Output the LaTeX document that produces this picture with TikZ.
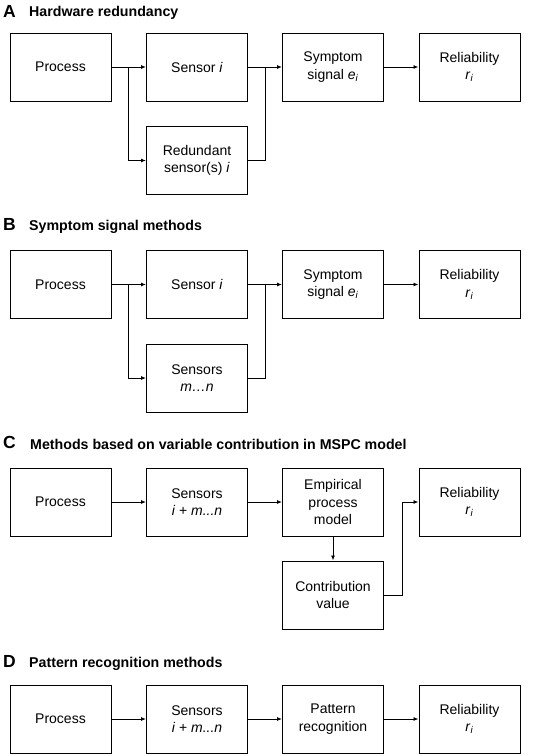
\documentclass[tikz,border=0pt]{standalone}
\usepackage{fontspec}
\setmainfont{Liberation Sans}
\usetikzlibrary{arrows.meta}
\begin{document}
\begin{tikzpicture}[x=1pt,y=-1pt,
  box/.style={draw, line width=1pt, minimum width=101pt, minimum height=68pt,
    inner sep=0pt, align=center, font=\fontsize{14}{17.5}\selectfont},
  arr/.style={line width=0.9pt, -{Latex[length=5pt,width=4pt]}},
  conn/.style={line width=0.9pt},
  letter/.style={anchor=base west, inner sep=0pt, font=\fontsize{17.5}{20}\selectfont\bfseries},
  subtitle/.style={anchor=base west, inner sep=0pt, font=\fontsize{14.2}{17}\selectfont\bfseries}]
\useasboundingbox (0,0) rectangle (533,756);

% ---------- A ----------
\node[letter] (la) at (3,17) {A};
\node[subtitle] (ta) at (29,16) {Hardware redundancy};
\node[box] (pA) at (60.5,67) {Process};
\node[box] (sA) at (197,67) {Sensor \textit{i}};
\node[box] (rA) at (197,160.5) {Redundant\\sensor(s) \textit{i}};
\node[box] (yA) at (333,67) {Symptom\\signal \textit{e}\textsubscript{\textit{i}}};
\node[box] (lA) at (469.5,67) {Reliability\\\textit{r}\textsubscript{\textit{i}}};
\coordinate (bA) at (128,67);
\coordinate (mA) at (265,67);
\draw[arr] (pA.east) -- (sA.west);
\draw[arr] (bA) |- (rA.west);
\draw[arr] (sA.east) -- (yA.west);
\draw[conn] (rA.east) -| (mA);
\draw[arr] (yA.east) -- (lA.west);

% ---------- B ----------
\node[letter] (lb) at (3,230) {B};
\node[subtitle] (tb) at (29,230) {Symptom signal methods};
\node[box] (pB) at (60.5,284.5) {Process};
\node[box] (sB) at (197,284.5) {Sensor \textit{i}};
\node[box] (rB) at (197,378) {Sensors\\\textit{m…n}};
\node[box] (yB) at (333,284.5) {Symptom\\signal \textit{e}\textsubscript{\textit{i}}};
\node[box] (lB) at (469.5,284.5) {Reliability\\\textit{r}\textsubscript{\textit{i}}};
\coordinate (bB) at (128,284.5);
\coordinate (mB) at (265,284.5);
\draw[arr] (pB.east) -- (sB.west);
\draw[arr] (bB) |- (rB.west);
\draw[arr] (sB.east) -- (yB.west);
\draw[conn] (rB.east) -| (mB);
\draw[arr] (yB.east) -- (lB.west);

% ---------- C ----------
\node[letter] (lc) at (3,448) {C};
\node[subtitle] (tc) at (30,449) {Methods based on variable contribution in MSPC model};
\node[box] (pC) at (60.5,502) {Process};
\node[box] (sC) at (197,502) {Sensors\\\textit{i} + \textit{m...n}};
\node[box] (eC) at (333,502) {Empirical\\process\\model};
\node[box] (cC) at (333,595) {Contribution\\value};
\node[box] (lC) at (469.5,502) {Reliability\\\textit{r}\textsubscript{\textit{i}}};
\coordinate (kC) at (402,502);
\draw[arr] (pC.east) -- (sC.west);
\draw[arr] (sC.east) -- (eC.west);
\draw[arr] (eC.south) -- (cC.north);
\draw[arr] (cC.east) -| (kC) -- (lC.west);

% ---------- D ----------
\node[letter] (ld) at (3,667) {D};
\node[subtitle] (td) at (29,667) {Pattern recognition methods};
\node[box] (pD) at (60.5,719) {Process};
\node[box] (sD) at (197,719) {Sensors\\\textit{i} + \textit{m...n}};
\node[box] (rD) at (333,719) {Pattern\\recognition};
\node[box] (lD) at (469.5,719) {Reliability\\\textit{r}\textsubscript{\textit{i}}};
\draw[arr] (pD.east) -- (sD.west);
\draw[arr] (sD.east) -- (rD.west);
\draw[arr] (rD.east) -- (lD.west);
\end{tikzpicture}
\end{document}
